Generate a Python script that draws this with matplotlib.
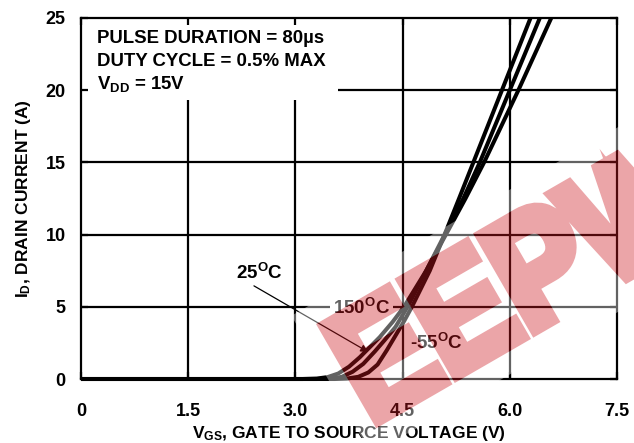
import numpy as np
import matplotlib
matplotlib.use('Agg')
import matplotlib.pyplot as plt
from matplotlib.textpath import TextPath
from matplotlib.font_manager import FontProperties
from matplotlib.patches import PathPatch, Polygon, Rectangle
from matplotlib.transforms import Affine2D

plt.rcParams['font.family'] = ['Liberation Sans', 'DejaVu Sans']
plt.rcParams['font.weight'] = 'bold'
plt.rcParams['axes.labelweight'] = 'bold'
plt.rcParams['mathtext.fontset'] = 'custom'
plt.rcParams['mathtext.rm'] = 'Liberation Sans:bold'
plt.rcParams['mathtext.bf'] = 'Liberation Sans:bold'
plt.rcParams['mathtext.it'] = 'Liberation Sans:bold'
plt.rcParams['mathtext.sf'] = 'Liberation Sans:bold'

# ---------------- data ----------------
v_150 = [0, 3.1, 3.3, 3.45, 3.6, 3.75, 3.9, 4.0, 4.18, 4.36, 4.52, 4.83, 5.15, 5.38, 5.64, 5.88, 6.12, 6.35, 6.58]
i_150 = [0, 0, 0.03, 0.13, 0.38, 0.85, 1.5, 2.0, 2.9, 3.95, 5.0, 7.5, 10.4, 12.5, 15, 17.5, 20, 22.5, 25]

v_25 = [0, 3.3, 3.5, 3.65, 3.8, 3.95, 4.11, 4.25, 4.4, 4.57, 4.83, 5.13, 5.35, 5.58, 5.79, 6.0, 6.21, 6.42]
i_25 = [0, 0, 0.03, 0.15, 0.5, 1.05, 1.9, 2.7, 3.6, 5.0, 7.5, 10.4, 12.5, 15, 17.5, 20, 22.5, 25]

v_m55 = [0, 3.55, 3.72, 3.88, 4.02, 4.15, 4.28, 4.4, 4.52, 4.63, 4.88, 5.12, 5.29, 5.49, 5.69, 5.89, 6.09, 6.29]
i_m55 = [0, 0, 0.03, 0.15, 0.45, 1.0, 2.0, 3.0, 4.0, 5.0, 7.5, 10.4, 12.5, 15, 17.5, 20, 22.5, 25]

x_ticks = [0, 1.5, 3.0, 4.5, 6.0, 7.5]
x_tick_labels = ['0', '1.5', '3.0', '4.5', '6.0', '7.5']
y_ticks = [0, 5, 10, 15, 20, 25]
y_tick_labels = ['0', '5', '10', '15', '20', '25']

info_lines = ['PULSE DURATION = 80\u00b5s', 'DUTY CYCLE = 0.5% MAX', r'V$_{\mathrm{DD}}$ = 15V']

# ---------------- figure ----------------
W, H, DPI = 634, 443, 100
fig = plt.figure(figsize=(W / DPI, H / DPI), dpi=DPI)
ax = fig.add_axes([81 / W, 1 - 379 / H, (617 - 81) / W, (379 - 18) / H])
ax.set_xlim(0, 7.5)
ax.set_ylim(0, 25)
ax.set_axisbelow(False)

for x in x_ticks[1:-1]:
    ax.axvline(x, color='black', lw=1.6, zorder=1)
for y in y_ticks[1:-1]:
    ax.axhline(y, color='black', lw=1.6, zorder=1)

for s in ax.spines.values():
    s.set_linewidth(1.6)

ax.set_xticks(x_ticks)
ax.set_xticklabels(x_tick_labels)
ax.set_yticks(y_ticks)
ax.set_yticklabels(y_tick_labels)
ax.tick_params(direction='in', length=5, width=1.6, top=True, right=True,
               labelsize=13)
ax.tick_params(axis='x', pad=17)
ax.tick_params(axis='y', pad=11)

# white box behind info text
ax.add_patch(Rectangle((0, 19.3), 3.6, 5.7, facecolor='white', edgecolor='none', zorder=2))
for txt, yv in zip(info_lines, [23.3, 21.7, 20.08]):
    ax.text(0.22, yv, txt, fontsize=13.4, fontweight='bold', va='baseline', ha='left', zorder=2.2)

# curves
for v, i in [(v_150, i_150), (v_25, i_25), (v_m55, i_m55)]:
    ax.plot(v, i, color='black', lw=2.9, zorder=3, clip_on=False, solid_capstyle='butt',
            solid_joinstyle='round')

# annotations
ax.text(2.17, 6.9, r'25$^{\mathrm{O}}$C', fontsize=13.5, va='baseline', ha='left', zorder=3)
ax.text(3.52, 4.5, r'150$^{\mathrm{O}}$C', fontsize=13.5, va='baseline', ha='left', zorder=2.2,
        bbox=dict(facecolor='white', edgecolor='none', pad=2))
ax.text(4.6, 2.1, r'-55$^{\mathrm{O}}$C', fontsize=13.5, va='baseline', ha='left', zorder=3)
ax.annotate('', xy=(4.02, 1.87), xytext=(2.42, 6.45),
            arrowprops=dict(arrowstyle='-|>', lw=0.9, color='black', mutation_scale=11,
                            shrinkA=0, shrinkB=0), zorder=3)

ax.set_xlabel(r'V$_{\mathrm{GS}}$, GATE TO SOURCE VOLTAGE (V)', fontsize=12.5, labelpad=3.5)
ax.set_ylabel(r'I$_{\mathrm{D}}$, DRAIN CURRENT (A)', fontsize=12.5, labelpad=9)

# ---------------- watermark (semi-transparent logo) ----------------
wfig = plt.figure(figsize=(W / DPI, H / DPI), dpi=DPI)
wfig.patch.set_facecolor('black')
ang = 30
ox, oy = 377, H - 428
rot = Affine2D().rotate_deg(ang).translate(ox, oy)
box = Polygon([(-18, -20), (800, -20), (800, 140), (-18, 140)], closed=True,
              transform=rot, facecolor=(1, 0, 0), edgecolor='none')
wfig.add_artist(box)
tp = TextPath((0, 0), 'EEPW', size=158, prop=FontProperties(family='Liberation Sans', weight='bold'))
letters = PathPatch(tp, transform=Affine2D().scale(0.86, 1).translate(-4, 6) + rot,
                    facecolor=(0, 1, 0), edgecolor=(0, 1, 0), linewidth=8.5,
                    joinstyle='miter')
wfig.add_artist(letters)
wfig.canvas.draw()
buf = np.asarray(wfig.canvas.buffer_rgba()).astype(float) / 255.0
plt.close(wfig)
R = buf[..., 0]
G = buf[..., 1]
cov = np.clip(R + G, 0, 1)
red = np.array([204, 24, 32]) / 255.0
rgb = (G[..., None] * red[None, None, :] + R[..., None] * 1.0) / np.maximum(cov, 1e-6)[..., None]
rgb = np.clip(rgb, 0, 1)
alpha = 0.39 * cov
overlay = np.dstack([rgb, alpha])
fig.figimage(overlay, xo=0, yo=0, origin='upper', zorder=10)

fig.savefig('out.png', dpi=DPI)
